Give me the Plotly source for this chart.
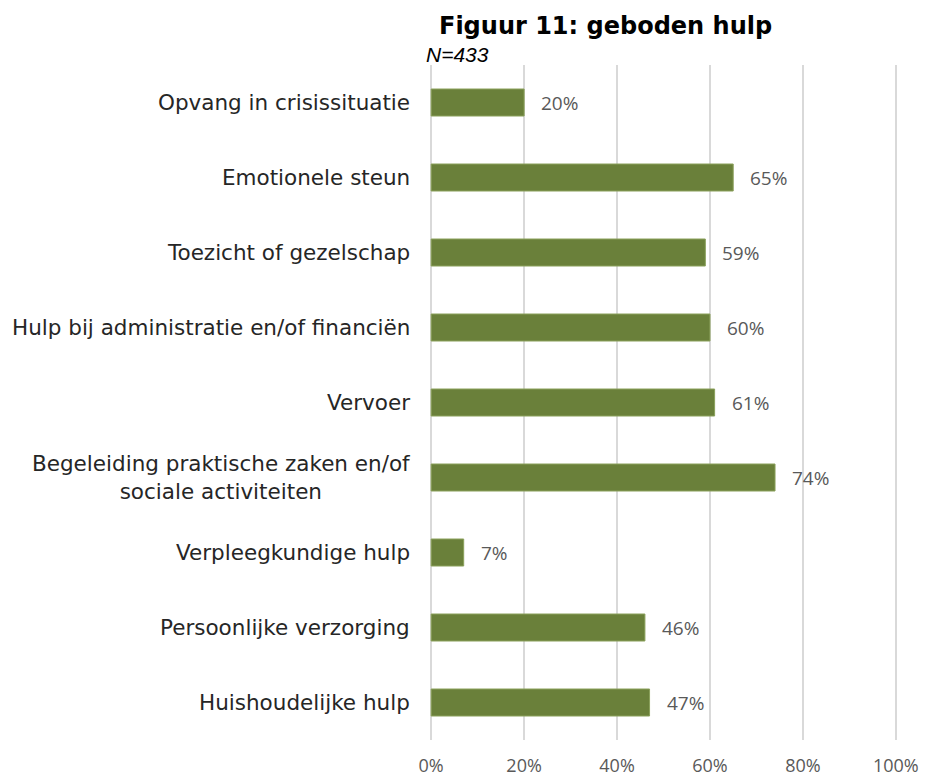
import plotly.graph_objects as go

categories = [
    "Opvang in crisissituatie",
    "Emotionele steun",
    "Toezicht of gezelschap",
    "Hulp bij administratie en/of financiën",
    "Vervoer",
    "Begeleiding praktische zaken en/of<br>sociale activiteiten",
    "Verpleegkundige hulp",
    "Persoonlijke verzorging",
    "Huishoudelijke hulp",
]
values = [20, 65, 59, 60, 61, 74, 7, 46, 47]
tick_vals = [0, 20, 40, 60, 80, 100]
tick_text = ["0%", "20%", "40%", "60%", "80%", "100%"]

bar_color = "#6a803a"
label_color = "#595959"

fig = go.Figure(
    go.Bar(
        y=categories,
        x=values,
        orientation="h",
        marker=dict(color=bar_color, line=dict(color="#8aa05a", width=1)),
        width=0.36,
        hoverinfo="skip",
    )
)

# value labels to the right of each bar
for cat, v in zip(categories, values):
    fig.add_annotation(
        x=v, y=cat, xref="x", yref="y",
        text=f"{v}%", showarrow=False,
        xanchor="left", xshift=15,
        font=dict(family="Open Sans", size=19, color=label_color),
    )

# category labels (centered lines for the wrapped one)
for cat in categories:
    fig.add_annotation(
        x=0, y=cat, xref="paper", yref="y",
        text=cat, showarrow=False,
        xanchor="right", align="center", xshift=-18,
        font=dict(family="DejaVu Sans", size=21.5, color="#262626"),
    )

fig.add_annotation(
    x=0.375, y=1.0, xref="paper", yref="paper",
    text="<b>Figuur 11: geboden hulp</b>", showarrow=False,
    xanchor="center", yanchor="bottom", yshift=23,
    font=dict(family="DejaVu Sans", size=24, color="#000000"),
)
fig.add_annotation(
    x=0, y=1.0, xref="paper", yref="paper",
    text="<i>N=433</i>", showarrow=False,
    xanchor="left", yanchor="bottom", yshift=-3, xshift=-6,
    font=dict(family="Liberation Sans", size=21, color="#000000"),
)

fig.update_layout(
    width=927, height=776,
    margin=dict(l=430, r=30, t=65, b=36),
    paper_bgcolor="white",
    plot_bgcolor="white",
    showlegend=False,
    xaxis=dict(
        range=[-0.25, 100.25],
        tickvals=tick_vals,
        ticktext=tick_text,
        showgrid=True,
        gridcolor="#d9d9d9",
        gridwidth=2,
        zeroline=True,
        zerolinecolor="#d9d9d9",
        zerolinewidth=2,
        showline=False,
        tickfont=dict(family="Open Sans", size=18, color=label_color),
        ticklabelstandoff=13,
        automargin=False,
        fixedrange=True,
    ),
    yaxis=dict(
        categoryorder="array",
        categoryarray=categories[::-1],
        showgrid=False,
        showline=False,
        showticklabels=False,
        ticks="",
        automargin=False,
        fixedrange=True,
    ),
)

fig.write_html("out.html")
